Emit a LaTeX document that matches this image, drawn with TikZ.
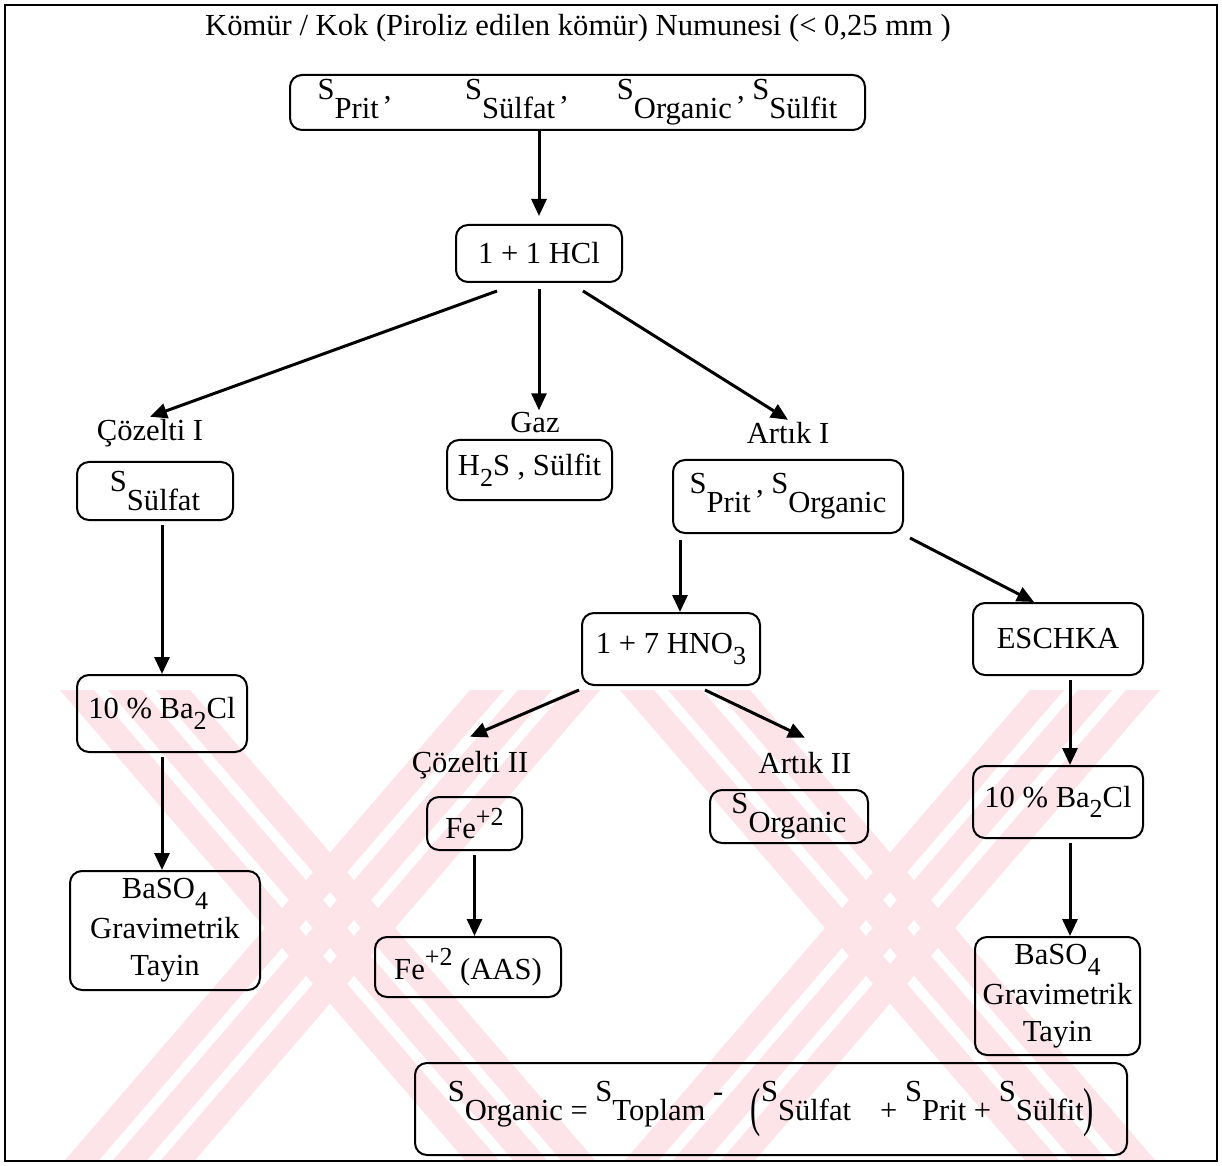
\documentclass[tikz,border=0pt]{standalone}
\usepackage{fontspec}
\usepackage{graphicx}
\setmainfont{Liberation Serif}
\usetikzlibrary{arrows.meta,calc}
\definecolor{wmpink}{RGB}{252,228,232}
\newcommand\Sx[1]{\raisebox{0.62em}{S}#1}
\newcommand\rc{\raisebox{0.62em}{,}}
\newcommand\lo[1]{\raisebox{-0.35em}{\fontsize{13}{13}\selectfont #1}}
\newcommand\hi[1]{\raisebox{0.45em}{\fontsize{13}{13}\selectfont #1}}
\begin{document}
\begin{tikzpicture}[x=0.5pt,y=-0.5pt,
  font=\fontsize{15.3}{18.5}\selectfont,
  box/.style 2 args={draw, line width=1pt, rounded corners=6pt, align=center,
    inner sep=0pt, minimum width=#1, minimum height=#2},
  lbl/.style={inner sep=1pt},
  arr/.style={line width=1.5pt, -{Triangle[length=8.5pt,width=7.5pt]}},
  wm/.style={fill=wmpink}]
\useasboundingbox (0,0) rectangle (1222,1166);
\fill[white] (0,0) rectangle (1222,1166);
% watermark
\begin{scope}
\clip (5,5) rectangle (1217,1161);
\foreach \xo in {60,620}{
  \foreach \s in {0,48,96}{
    \fill[wm] (\xo+\s,690) -- (\xo+\s+34,690) -- (\xo+\s+444,1166) -- (\xo+\s+410,1166) -- cycle;
    \fill[wm] (\xo+540-\s,690) -- (\xo+506-\s,690) -- (\xo+96-\s,1166) -- (\xo+130-\s,1166) -- cycle;
  }
}
\end{scope}
% frame
\draw[line width=1.2pt] (5,5) rectangle (1217,1161);

\node[lbl] (title) at (578,28) {Kömür / Kok (Piroliz edilen kömür) Numunesi (< 0,25 mm )};
\node[box={287.5pt}{27.5pt}] (top) at (577.5,102.5)
  {\Sx{Prit}\,\rc\hspace{2.4em}\Sx{Sülfat}\,\rc\hspace{1.6em}\Sx{Organic}\,\rc\ \Sx{Sülfit}};
\node[box={83pt}{28.5pt}] (hcl) at (539,253.5) {1 + 1 HCl};

\node[lbl] (cz1) at (150,433) {Çözelti I};
\node[box={78pt}{29pt}] (ssulf) at (155,491) {\Sx{Sülfat}};
\node[lbl] (gaz) at (535,423) {Gaz};
\node[box={82.5pt}{30pt}] (h2s) at (529.5,470) {H\lo{2}S , Sülfit};
\node[lbl] (ar1) at (788,433) {Artık I};
\node[box={115pt}{36.5pt}] (sprit) at (788,496.5) {\Sx{Prit}\,\rc\ \Sx{Organic}};

\node[box={85pt}{38.5pt}] (ba1) at (162,713.5) {10 \% Ba\lo{2}Cl};
\node[box={95pt}{59.5pt}] (baso1) at (165,930.5) {BaSO\lo{4}\\[1.5pt]Gravimetrik\\Tayin};

\node[box={89pt}{36pt}] (hno) at (671,649) {1 + 7 HNO\lo{3}};
\node[box={85pt}{36pt}] (esch) at (1058,639) {ESCHKA};

\node[lbl] (cz2) at (470,765) {Çözelti II};
\node[box={47.5pt}{26.5pt}] (fe) at (474.5,823.5) {Fe\hi{+2}};
\node[lbl] (ar2) at (805,763) {Artık II};
\node[box={79pt}{26.5pt}] (sorg) at (789,816.5) {\Sx{Organic}};
\node[box={93pt}{30pt}] (feaas) at (468,967) {Fe\hi{+2} (AAS)};

\node[box={85pt}{36pt}] (ba2) at (1058,802) {10 \% Ba\lo{2}Cl};
\node[box={82.5pt}{59pt}] (baso2) at (1057.5,996) {BaSO\lo{4}\\[1.5pt]Gravimetrik\\Tayin};

\node[box={356pt}{46pt}] (form) at (771,1109)
  {\Sx{Organic} = \Sx{Toplam} \raisebox{0.62em}{-}\hspace{0.9em}\raisebox{-0.15em}{\scalebox{1}[1.75]{(}}\Sx{Sülfat}\hspace{0.7em} + \Sx{Prit} + \Sx{Sülfit}\raisebox{-0.15em}{\scalebox{1}[1.75]{)}}};

% connectors
\draw[arr] (top.south -| hcl.north) -- ([yshift=4pt]hcl.north);
\draw[arr] ([xshift=-21pt,yshift=-4pt]hcl.south) -- (cz1.north);
\draw[arr] ([yshift=-3pt]hcl.south) -- (hcl.south |- gaz.north);
\draw[arr] ([xshift=22pt,yshift=-4pt]hcl.south) -- (ar1.north);
\draw[arr] ([yshift=-2pt]ba1.north |- ssulf.south) -- (ba1.north);
\draw[arr] ([yshift=-2pt]ba1.south) -- (ba1.south |- baso1.north);
\draw[arr] ([xshift=-54pt,yshift=-3pt]sprit.south) -- ([xshift=-54pt]sprit.south |- hno.north);
\draw[arr] ([xshift=3pt,yshift=-2pt]sprit.south east) -- ([xshift=-12pt]esch.north);
\draw[arr] ([xshift=-46pt,yshift=-2pt]hno.south) -- ([yshift=6pt]cz2.north);
\draw[arr] ([xshift=17pt,yshift=-2pt]hno.south) -- ([yshift=6pt]ar2.north);
\draw[arr] ([yshift=-2pt]fe.south) -- (fe.south |- feaas.north);
\draw[arr] ([xshift=6pt,yshift=-2pt]esch.south) -- ([xshift=6pt]esch.south |- ba2.north);
\draw[arr] ([xshift=6pt,yshift=-2pt]ba2.south) -- ([xshift=6pt]ba2.south |- baso2.north);
\end{tikzpicture}
\end{document}
